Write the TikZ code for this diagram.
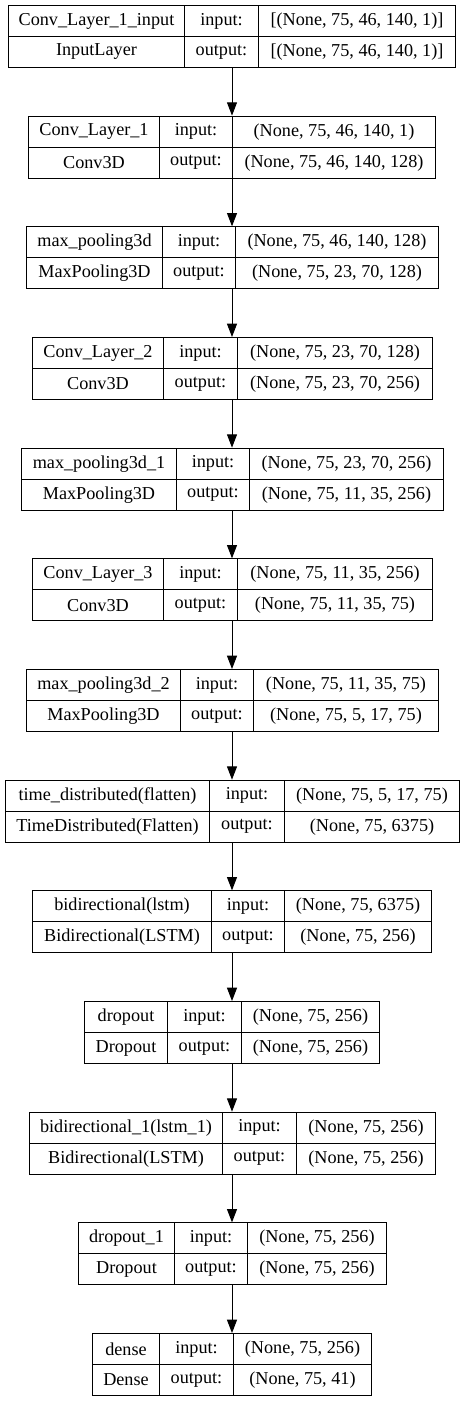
\documentclass[tikz,border=0pt]{standalone}
\usepackage{fontspec}
\setmainfont{Liberation Serif}
\usetikzlibrary{arrows.meta}
\begin{document}
\begin{tikzpicture}[x=0.75pt,y=-0.75pt,
  cell/.style={draw=black,line width=0.75pt,inner sep=0pt,anchor=north west,
    minimum height=23.25pt,font=\fontsize{13.65}{16}\selectfont},
  flow/.style={draw=black,line width=0.75pt,-{Triangle[length=10pt,width=7.5pt]}}]
  \useasboundingbox (0,0) rectangle (464,1401);
  \coordinate (ax) at (232,0);
  % layers: index/left/first divider/second divider/right/name/type/input shape/output shape
  \foreach \k/\xl/\xa/\xb/\xr/\nm/\ty/\si/\so in {
    1/8/184/258/455/{Conv\_Layer\_1\_input}/{InputLayer}/{[(None, 75, 46, 140, 1)]}/{[(None, 75, 46, 140, 1)]},
    2/28/159/232/435/{Conv\_Layer\_1}/{Conv3D}/{(None, 75, 46, 140, 1)}/{(None, 75, 46, 140, 128)},
    3/26/162/235/438/{max\_pooling3d}/{MaxPooling3D}/{(None, 75, 46, 140, 128)}/{(None, 75, 23, 70, 128)},
    4/32/163/237/432/{Conv\_Layer\_2}/{Conv3D}/{(None, 75, 23, 70, 128)}/{(None, 75, 23, 70, 256)},
    5/21/176/249/443/{max\_pooling3d\_1}/{MaxPooling3D}/{(None, 75, 23, 70, 256)}/{(None, 75, 11, 35, 256)},
    6/32/163/237/432/{Conv\_Layer\_3}/{Conv3D}/{(None, 75, 11, 35, 256)}/{(None, 75, 11, 35, 75)},
    7/26/180/253/438/{max\_pooling3d\_2}/{MaxPooling3D}/{(None, 75, 11, 35, 75)}/{(None, 75, 5, 17, 75)},
    8/5/209/284/459/{time\_distributed(flatten)}/{TimeDistributed(Flatten)}/{(None, 75, 5, 17, 75)}/{(None, 75, 6375)},
    9/32/211/284/431/{bidirectional(lstm)}/{Bidirectional(LSTM)}/{(None, 75, 6375)}/{(None, 75, 256)},
    10/84/167/241/379/{dropout}/{Dropout}/{(None, 75, 256)}/{(None, 75, 256)},
    11/29/222/296/435/{bidirectional\_1(lstm\_1)}/{Bidirectional(LSTM)}/{(None, 75, 256)}/{(None, 75, 256)},
    12/78/174/247/386/{dropout\_1}/{Dropout}/{(None, 75, 256)}/{(None, 75, 256)},
    13/92/159/233/371/{dense}/{Dense}/{(None, 75, 256)}/{(None, 75, 41)}}{
    \pgfmathsetmacro\tp{5+110.67*(\k-1)}
    \pgfmathsetmacro\md{\tp+31}
    \node[cell,minimum width=(\xr-\xl)*0.75pt,minimum height=46.5pt] (box\k) at (\xl,\tp) {};
    \node[cell,minimum width=(\xa-\xl)*0.75pt] (nm\k) at (\xl,\tp) {\nm};
    \node[cell,minimum width=(\xa-\xl)*0.75pt] (tp\k) at (\xl,\md) {\ty};
    \node[cell,minimum width=(\xb-\xa)*0.75pt] (il\k) at (\xa,\tp) {input:};
    \node[cell,minimum width=(\xb-\xa)*0.75pt] (ol\k) at (\xa,\md) {output:};
    \node[cell,minimum width=(\xr-\xb)*0.75pt] (si\k) at (\xb,\tp) {\si};
    \node[cell,minimum width=(\xr-\xb)*0.75pt] (so\k) at (\xb,\md) {\so};
  }
  \foreach \k [evaluate=\k as \j using int(\k+1)] in {1,...,12}
    \draw[flow] (box\k.south -| ax) -- (box\j.north -| ax);
\end{tikzpicture}
\end{document}
